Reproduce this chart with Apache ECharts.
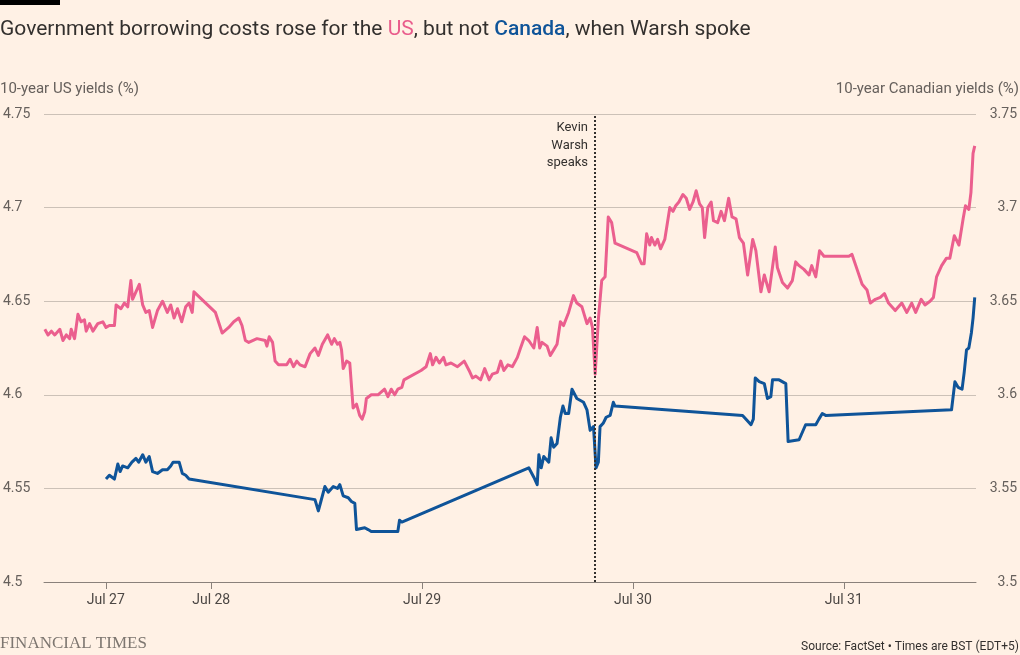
<!DOCTYPE html>
<html>
<head>
<meta charset="utf-8">
<script src="https://cdn.jsdelivr.net/npm/echarts@6/dist/echarts.min.js"></script>
<style>
html,body{margin:0;padding:0;background:#fff1e5;}
#chart{width:1020px;height:655px;}
</style>
</head>
<body>
<div id="chart"></div>
<script>
// x = position on a compressed trading-time axis, in days (Jul 28 = 1, Jul 29 = 2 ...)
var usX = [0.211,0.226,0.242,0.258,0.282,0.297,0.313,0.329,0.336,0.352,
  0.368,0.383,0.399,0.407,0.423,0.439,0.462,0.486,0.501,0.517,
  0.525,0.541,0.549,0.572,0.588,0.604,0.619,0.627,0.643,0.659,
  0.675,0.690,0.706,0.722,0.745,0.769,0.792,0.808,0.824,0.840,
  0.860,0.879,0.895,0.910,0.918,1.020,1.028,1.052,1.083,1.107,
  1.131,1.146,1.162,1.178,1.217,1.256,1.264,1.275,1.291,1.303,
  1.319,1.358,1.374,1.390,1.406,1.421,1.445,1.469,1.492,1.508,
  1.527,1.552,1.571,1.584,1.599,1.610,1.618,1.626,1.642,1.657,
  1.673,1.689,1.704,1.716,1.728,1.736,1.759,1.791,1.822,1.838,
  1.854,1.870,1.885,1.904,1.914,1.995,2.019,2.039,2.050,2.066,
  2.082,2.102,2.113,2.137,2.168,2.200,2.223,2.239,2.255,2.278,
  2.297,2.318,2.333,2.357,2.373,2.388,2.407,2.428,2.452,2.467,
  2.486,2.506,2.530,2.546,2.558,2.569,2.593,2.608,2.624,2.640,
  2.656,2.671,2.695,2.718,2.734,2.758,2.782,2.797,2.808,2.821,
  2.836,2.852,2.868,2.883,2.899,2.915,3.018,3.041,3.053,3.065,
  3.080,3.088,3.104,3.117,3.131,3.151,3.175,3.190,3.203,3.218,
  3.237,3.253,3.269,3.285,3.300,3.316,3.329,3.340,3.355,3.371,
  3.382,3.402,3.418,3.434,3.454,3.470,3.489,3.505,3.524,3.544,
  3.568,3.583,3.607,3.623,3.646,3.675,3.685,3.709,3.733,3.756,
  3.772,3.788,3.811,3.835,3.848,3.867,3.885,3.906,4.024,4.039,
  4.063,4.087,4.110,4.126,4.150,4.173,4.193,4.212,4.244,4.275,
  4.299,4.322,4.341,4.367,4.385,4.409,4.425,4.440,4.464,4.487,
  4.503,4.524,4.546,4.566,4.577,4.593,4.603,4.613,4.621];

var usYield = [4.635,4.632,4.634,4.632,4.635,4.629,4.632,4.630,4.635,4.630,
  4.643,4.639,4.640,4.634,4.638,4.634,4.638,4.639,4.636,4.637,
  4.636,4.637,4.648,4.646,4.649,4.647,4.661,4.651,4.655,4.659,
  4.648,4.644,4.645,4.636,4.645,4.650,4.644,4.648,4.641,4.646,
  4.639,4.647,4.649,4.644,4.655,4.644,4.643,4.633,4.636,4.639,
  4.641,4.637,4.629,4.628,4.630,4.629,4.626,4.631,4.628,4.618,
  4.616,4.616,4.619,4.615,4.618,4.616,4.615,4.622,4.625,4.621,
  4.627,4.632,4.627,4.630,4.627,4.628,4.624,4.614,4.618,4.617,
  4.593,4.595,4.589,4.587,4.591,4.598,4.600,4.600,4.603,4.599,
  4.603,4.600,4.603,4.604,4.608,4.613,4.615,4.622,4.616,4.620,
  4.617,4.620,4.616,4.617,4.615,4.618,4.613,4.609,4.610,4.608,
  4.614,4.608,4.611,4.612,4.618,4.613,4.616,4.615,4.620,4.625,
  4.631,4.629,4.625,4.636,4.625,4.628,4.626,4.621,4.624,4.627,
  4.639,4.637,4.644,4.653,4.649,4.647,4.638,4.641,4.636,4.611,
  4.640,4.661,4.663,4.695,4.692,4.681,4.676,4.670,4.670,4.686,
  4.680,4.684,4.680,4.683,4.678,4.683,4.700,4.698,4.701,4.703,
  4.707,4.705,4.699,4.703,4.709,4.702,4.700,4.684,4.700,4.703,
  4.693,4.692,4.698,4.693,4.705,4.695,4.694,4.684,4.681,4.664,
  4.683,4.677,4.655,4.664,4.655,4.679,4.668,4.660,4.657,4.661,
  4.671,4.669,4.667,4.664,4.669,4.663,4.677,4.674,4.674,4.675,
  4.667,4.659,4.656,4.649,4.651,4.652,4.654,4.649,4.645,4.649,
  4.644,4.649,4.644,4.651,4.648,4.650,4.652,4.663,4.669,4.673,
  4.673,4.685,4.680,4.694,4.701,4.699,4.708,4.729,4.733];

var caX = [0.501,0.517,0.541,0.557,0.568,0.580,0.604,0.624,0.643,0.656,
  0.675,0.690,0.706,0.722,0.745,0.769,0.792,0.808,0.819,0.848,
  0.863,0.879,0.895,1.492,1.508,1.520,1.539,1.555,1.579,1.599,
  1.610,1.626,1.650,1.665,1.681,1.689,1.728,1.744,1.759,1.830,
  1.838,1.846,1.885,1.893,1.904,2.506,2.530,2.546,2.554,2.565,
  2.577,2.601,2.612,2.624,2.640,2.656,2.668,2.679,2.695,2.711,
  2.734,2.766,2.782,2.797,2.813,2.825,2.836,2.844,2.860,2.873,
  2.892,2.907,2.915,3.520,3.544,3.560,3.571,3.580,3.599,3.623,
  3.638,3.654,3.662,3.693,3.725,3.736,3.788,3.819,3.867,3.882,
  3.898,3.914,4.511,4.527,4.542,4.561,4.571,4.582,4.593,4.605,
  4.613,4.621];

var caYield = [3.555,3.557,3.555,3.563,3.559,3.562,3.561,3.564,3.566,3.564,
  3.568,3.564,3.567,3.559,3.558,3.560,3.560,3.562,3.564,3.564,
  3.558,3.557,3.555,3.544,3.538,3.543,3.551,3.548,3.551,3.550,
  3.552,3.546,3.545,3.543,3.542,3.528,3.529,3.528,3.527,3.527,
  3.526,3.527,3.527,3.533,3.532,3.561,3.556,3.552,3.568,3.561,
  3.567,3.564,3.577,3.572,3.574,3.588,3.594,3.590,3.590,3.603,
  3.598,3.596,3.592,3.581,3.583,3.561,3.564,3.583,3.585,3.588,
  3.589,3.596,3.594,3.589,3.586,3.584,3.587,3.609,3.607,3.606,
  3.598,3.599,3.608,3.608,3.606,3.575,3.576,3.584,3.584,3.587,
  3.590,3.589,3.592,3.607,3.604,3.603,3.612,3.624,3.625,3.633,
  3.641,3.652];

var xTickPos = [0.5, 1, 2, 3, 4];
var xTickLabels = ['Jul 27', 'Jul 28', 'Jul 29', 'Jul 30', 'Jul 31'];
var warshX = 2.822;

var usData = [];
for (var i = 0; i < usX.length; i++) usData.push([usX[i], usYield[i]]);
var caData = [];
for (var j = 0; j < caX.length; j++) caData.push([caX[j], caYield[j]]);

var FONT = 'Roboto';
var chart = echarts.init(document.getElementById('chart'), null, {renderer: 'canvas'});

var option = {
  backgroundColor: '#fff1e5',
  animation: false,
  title: {
    left: -5, top: 14,
    text: 'Government borrowing costs rose for the {us|US}, but not {ca|Canada}, when Warsh spoke',
    textStyle: {
      fontFamily: FONT, fontSize: 21, fontWeight: 'normal', color: '#33302e',
      rich: {
        us: {fontFamily: FONT, fontSize: 21, color: '#e95d8c'},
        ca: {fontFamily: FONT, fontSize: 21, color: '#0f5499', fontWeight: 500}
      }
    }
  },
  grid: {left: 41, right: 42, top: 114, bottom: 73, containLabel: false},
  xAxis: {
    type: 'value',
    min: 0.207, max: 4.627,
    axisLine: {show: true, onZero: false, lineStyle: {color: '#8a817b', width: 1}},
    axisTick: {show: true, customValues: xTickPos, length: 7, lineStyle: {color: '#8a817b'}},
    axisLabel: {
      customValues: xTickPos, margin: 11,
      fontFamily: FONT, fontSize: 14, color: '#4d4845',
      formatter: function (v) {
        var k = xTickPos.indexOf(v);
        return k >= 0 ? xTickLabels[k] : '';
      }
    },
    splitLine: {show: false}
  },
  yAxis: [{
    type: 'value', position: 'left',
    min: 4.5, max: 4.75, interval: 0.05,
    axisLine: {show: false}, axisTick: {show: false},
    axisLabel: {align: 'left', margin: 41, fontFamily: FONT, fontSize: 14, color: '#66605c'},
    splitLine: {lineStyle: {color: '#ccc1b7', width: 1}}
  }, {
    type: 'value', position: 'right',
    min: 3.5, max: 3.75, interval: 0.05,
    axisLine: {show: false}, axisTick: {show: false},
    axisLabel: {align: 'right', margin: 41, fontFamily: FONT, fontSize: 14, color: '#66605c'},
    splitLine: {show: false}
  }],
  series: [{
    name: 'US', type: 'line', yAxisIndex: 0,
    data: usData, showSymbol: false, symbol: 'none',
    lineStyle: {color: '#eb5f8e', width: 3, join: 'round'},
    z: 3,
    markLine: {
      silent: true, symbol: ['none', 'none'],
      label: {show: false},
      lineStyle: {color: '#33302e', type: [2, 2], width: 2},
      data: [{xAxis: warshX}]
    }
  }, {
    name: 'Canada', type: 'line', yAxisIndex: 1,
    data: caData, showSymbol: false, symbol: 'none',
    lineStyle: {color: '#0f5499', width: 3, join: 'round'},
    z: 3
  }],
  graphic: [
    {type: 'rect', left: 0, top: 0, shape: {width: 60, height: 5}, style: {fill: '#000'}},
    {type: 'text', left: 0, top: 82, style: {text: '10-year US yields (%)', font: '15px ' + FONT, fill: '#66605c'}},
    {type: 'text', right: 1, top: 82, style: {text: '10-year Canadian yields (%)', font: '15px ' + FONT, fill: '#66605c'}},
    {type: 'text', x: 588, y: 119, style: {text: 'Kevin\nWarsh\nspeaks', font: '13px ' + FONT, fill: '#33302e', align: 'right', lineHeight: 17.5}},
    {type: 'text', left: 0, top: 635, style: {text: 'FINANCIAL TIMES', font: '17px "Liberation Serif"', fill: '#7d7670'}},
    {type: 'text', right: 1, top: 641, style: {text: 'Source: FactSet \u2022 Times are BST (EDT+5)', font: '12px ' + FONT, fill: '#33302e'}}
  ]
};
chart.setOption(option);
</script>
</body>
</html>
